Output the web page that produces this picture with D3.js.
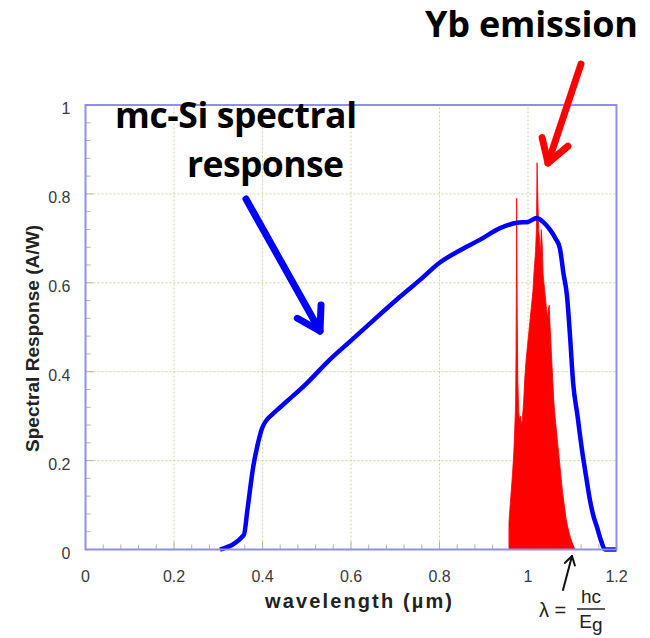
<!DOCTYPE html>
<html>
<head>
<meta charset="utf-8">
<script src="https://cdn.jsdelivr.net/npm/d3@7"></script>
<style>
    body { margin: 0; background: #fff; }
    .grid line { stroke: #d6d39a; stroke-width: 1; stroke-dasharray: 2,2; }
    .tick-label { font-family: "Liberation Sans", Arial, sans-serif; font-size: 16px; fill: #3a3a3a; }
    .axis-title { font-family: "Liberation Sans", Arial, sans-serif; font-weight: bold; fill: #222; }
    .note { font-family: "Open Sans", Lato, sans-serif; font-weight: bold; fill: #000; }
</style>
</head>
<body>
<div id="chart"></div>
<script>
// tick labels
const xTicks = [0, 0.2, 0.4, 0.6, 0.8, 1, 1.2];
const yTicks = [0, 0.2, 0.4, 0.6, 0.8, 1];

// mc-Si spectral response (A/W) vs wavelength (um)
const siWave = [0.304, 0.358, 0.366, 0.379, 0.390, 0.399, 0.410, 0.421, 0.440, 0.458, 0.500, 0.550, 0.600, 0.650, 0.710, 0.760, 0.800, 0.850, 0.890, 0.937, 0.975, 1.000, 1.020, 1.034, 1.050, 1.062, 1.072, 1.080, 1.088, 1.095, 1.102, 1.112, 1.122, 1.132, 1.140, 1.148, 1.156, 1.165, 1.174, 1.200];
const siResp = [0.000, 0.033, 0.090, 0.186, 0.240, 0.273, 0.292, 0.303, 0.320, 0.336, 0.374, 0.425, 0.470, 0.515, 0.568, 0.610, 0.645, 0.675, 0.696, 0.723, 0.735, 0.737, 0.746, 0.737, 0.719, 0.700, 0.678, 0.622, 0.572, 0.480, 0.375, 0.300, 0.224, 0.160, 0.111, 0.075, 0.050, 0.020, 0.000, 0.000];

// Yb emission (arbitrary units scaled to the axis)
const ybWave = [0.957, 0.957, 0.959, 0.962, 0.965, 0.968, 0.970, 0.972, 0.973, 0.9745, 0.9755, 0.977, 0.979, 0.981, 0.983, 0.985, 0.987, 0.990, 0.993, 0.996, 0.999, 1.002, 1.005, 1.008, 1.011, 1.014, 1.017, 1.019, 1.0205, 1.022, 1.024, 1.026, 1.028, 1.030, 1.032, 1.034, 1.036, 1.038, 1.040, 1.042, 1.044, 1.046, 1.048, 1.050, 1.052, 1.054, 1.056, 1.058, 1.060, 1.063, 1.066, 1.069, 1.072, 1.075, 1.078, 1.082, 1.086, 1.090, 1.095, 1.100, 1.106];
const ybInt = [0.000, 0.060, 0.090, 0.130, 0.170, 0.220, 0.270, 0.330, 0.450, 0.790, 0.550, 0.380, 0.310, 0.290, 0.300, 0.280, 0.290, 0.330, 0.390, 0.430, 0.460, 0.490, 0.520, 0.550, 0.580, 0.630, 0.670, 0.720, 0.870, 0.800, 0.720, 0.700, 0.660, 0.720, 0.690, 0.620, 0.600, 0.580, 0.560, 0.540, 0.520, 0.540, 0.550, 0.500, 0.460, 0.420, 0.380, 0.340, 0.310, 0.280, 0.250, 0.220, 0.190, 0.160, 0.130, 0.100, 0.070, 0.050, 0.030, 0.015, 0.000];

const width = 650, height = 638;
const margin = {left: 85.5, right: 33.5, top: 105, bottom: 88.5};

let svg = d3.select('#chart').append('svg')
    .attr('width', width)
    .attr('height', height);

let x = d3.scaleLinear().domain([0, 1.2]).range([margin.left, width - margin.right]);
let y = d3.scaleLinear().domain([0, 1]).range([height - margin.bottom, margin.top]);

// 网格
let grid = svg.append('g').attr('class', 'grid');
grid.selectAll('.gx').data(xTicks.slice(1, -1)).join('line')
    .attr('x1', d => x(d)).attr('x2', d => x(d))
    .attr('y1', y(0)).attr('y2', y(1));
grid.selectAll('.gy').data(yTicks.slice(1, -1)).join('line')
    .attr('x1', x(0)).attr('x2', x(1.2))
    .attr('y1', d => y(d)).attr('y2', d => y(d));

// minor ticks, pointing inward
let minorX = d3.range(1, 30).map(i => i * 0.04);
let minorY = d3.range(1, 25).map(i => i * 0.04);
let isMajor = d => Math.abs(d * 5 - Math.round(d * 5)) < 1e-6;
svg.append('g').selectAll('line').data(minorX).join('line')
    .attr('x1', d => x(d)).attr('x2', d => x(d))
    .attr('y1', y(0)).attr('y2', d => y(0) - (isMajor(d) ? 8 : 5))
    .attr('stroke', '#b9b58a').attr('stroke-width', 1);
svg.append('g').selectAll('line').data(minorY).join('line')
    .attr('y1', d => y(d)).attr('y2', d => y(d))
    .attr('x1', x(0)).attr('x2', d => x(0) + (isMajor(d) ? 8 : 5))
    .attr('stroke', '#b9b58a').attr('stroke-width', 1);

// Yb emission
let ybData = ybWave.map((w, i) => [w, ybInt[i]]);
svg.append('path')
    .datum(ybData)
    .attr('fill', '#ff0000')
    .attr('stroke', '#ff0000')
    .attr('stroke-width', 0.8)
    .attr('d', d3.area().x(d => x(d[0])).y0(y(0)).y1(d => y(d[1])));

// mc-Si curve
let siData = siWave.map((w, i) => [w, siResp[i]]);
svg.append('path')
    .datum(siData)
    .attr('fill', 'none')
    .attr('stroke', '#0000ff')
    .attr('stroke-width', 4.5)
    .attr('stroke-linejoin', 'round')
    .attr('d', d3.line().x(d => x(d[0])).y(d => y(d[1])).curve(d3.curveMonotoneX));

// 边框
svg.append('rect')
    .attr('x', x(0)).attr('y', y(1))
    .attr('width', x(1.2) - x(0)).attr('height', y(0) - y(1))
    .attr('fill', 'none')
    .attr('stroke', '#8f8fe8')
    .attr('stroke-width', 2);

// tick labels
svg.append('g').selectAll('text').data(xTicks).join('text')
    .attr('class', 'tick-label')
    .attr('x', d => x(d)).attr('y', y(0) + 32)
    .attr('text-anchor', 'middle')
    .text(d => d3.format('~g')(d));
svg.append('g').selectAll('text').data(yTicks).join('text')
    .attr('class', 'tick-label')
    .attr('x', x(0) - 15).attr('y', d => y(d) + 9)
    .attr('text-anchor', 'end')
    .text(d => d3.format('~g')(d));

// axis titles
svg.append('text')
    .attr('class', 'axis-title')
    .attr('x', 265).attr('y', 608)
    .attr('textLength', 187).attr('lengthAdjust', 'spacing')
    .style('font-size', '20px')
    .text('wavelength (µm)');
svg.append('text')
    .attr('class', 'axis-title')
    .attr('transform', 'translate(39,452) rotate(-90)')
    .attr('textLength', 227).attr('lengthAdjust', 'spacing')
    .style('font-size', '19px')
    .text('Spectral Response (A/W)');

// annotations
svg.append('text').attr('class', 'note')
    .attr('x', 115).attr('y', 128).style('font-size', '35.5px')
    .attr('textLength', 242).attr('lengthAdjust', 'spacing')
    .text('mc-Si spectral');
svg.append('text').attr('class', 'note')
    .attr('x', 187).attr('y', 177).style('font-size', '35.5px')
    .attr('textLength', 157).attr('lengthAdjust', 'spacing')
    .text('response');
svg.append('text').attr('class', 'note')
    .attr('x', 425).attr('y', 37).style('font-size', '36px')
    .attr('textLength', 213).attr('lengthAdjust', 'spacing')
    .text('Yb emission');

function arrow(x1, y1, x2, y2, color, w, head) {
    let a = Math.atan2(y2 - y1, x2 - x1);
    let g = svg.append('g')
        .attr('stroke', color).attr('stroke-width', w)
        .attr('stroke-linecap', 'round').attr('stroke-linejoin', 'round')
        .attr('fill', 'none');
    g.append('line').attr('x1', x1).attr('y1', y1).attr('x2', x2).attr('y2', y2);
    let p = d3.path();
    p.moveTo(x2 - head * Math.cos(a - 0.55), y2 - head * Math.sin(a - 0.55));
    p.lineTo(x2, y2);
    p.lineTo(x2 - head * Math.cos(a + 0.55), y2 - head * Math.sin(a + 0.55));
    g.append('path').attr('d', p.toString());
}
arrow(246, 199, 320, 331, '#0000ff', 7, 26);
arrow(581, 64, 548, 163, '#ff0000', 7, 26);
arrow(563, 590, 572, 556, '#111', 2, 10);

// λ = hc / Eg
let f = svg.append('g').attr('font-family', '"Liberation Sans", Arial, sans-serif').attr('fill', '#222');
f.append('text').attr('x', 539).attr('y', 617).style('font-size', '20px').text('λ =');
f.append('text').attr('x', 591).attr('y', 603).attr('text-anchor', 'middle').style('font-size', '19px').text('hc');
f.append('line').attr('x1', 577).attr('x2', 605).attr('y1', 609).attr('y2', 609).attr('stroke', '#222').attr('stroke-width', 1.5);
f.append('text').attr('x', 591).attr('y', 628).attr('text-anchor', 'middle').style('font-size', '19px')
    .text('E').append('tspan').attr('dy', 3).text('g');
</script>
</body>
</html>
